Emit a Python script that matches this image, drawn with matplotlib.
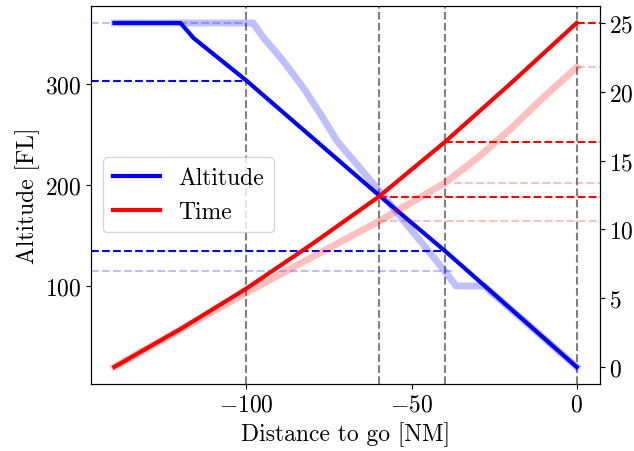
import numpy as np
import matplotlib
matplotlib.use("Agg")
import matplotlib.pyplot as plt

plt.rcParams['font.family'] = 'serif'
plt.rcParams['font.serif'] = ['cmr10']
plt.rcParams['mathtext.fontset'] = 'cm'
plt.rcParams['axes.formatter.use_mathtext'] = True
plt.rcParams['font.size'] = 17

# flown profile
dist = [-140, -120, -116, -100, -60, -40, 0]
alt = [360, 360, 345, 303, 190, 135, 20]
t_dist = [-140, -120, -100, -80, -60, -40, -20, 0]
t_min = [0, 2.75, 5.7, 8.95, 12.36, 16.33, 20.6, 25.0]

# reference profile
ref_dist = [-140, -98, -95, -89, -83, -77.6, -72.5, -60, -40, -36.5, -28, 0]
ref_alt = [360, 360, 346, 323, 297, 270, 243, 195, 115, 100, 100, 20]
ref_t_dist = [-140, -120, -100, -80, -60, -40, -30, -20, -10, 0]
ref_t_min = [0, 2.7, 5.4, 8.0, 10.57, 13.35, 15.2, 17.3, 19.6, 21.77]

waypoints = [-100, -60, -40, 0]

# markers: (x, value)
alt_marks = [(-100, 303), (-40, 135)]
ref_alt_marks = [(-100, 360), (-37, 115)]
time_marks = [(-60, 12.36), (-40, 16.33), (0, 25.0)]
ref_time_marks = [(-60, 10.57), (-37, 13.35), (0, 21.77)]

xlo, xhi = -147, 7

fig, ax = plt.subplots(figsize=(6.34, 4.52), dpi=100)
fig.subplots_adjust(left=0.144, right=0.946, top=0.985, bottom=0.148)
ax2 = ax.twinx()

for w in waypoints:
    ax.axvline(w, color='grey', ls='--', lw=1.5)

for x, a in ref_alt_marks:
    ax.hlines(a, xlo, x, color='blue', alpha=0.25, ls='--', lw=1.5)
for x, a in alt_marks:
    ax.hlines(a, xlo, x, color='blue', ls='--', lw=1.5)
ax.plot(ref_dist, ref_alt, color='blue', alpha=0.25, lw=5)
ln1, = ax.plot(dist, alt, color='blue', lw=3, label='Altitude')

for x, v in ref_time_marks:
    ax2.hlines(v, x, xhi, color='red', alpha=0.25, ls='--', lw=1.5)
for x, v in time_marks:
    ax2.hlines(v, x, xhi, color='red', ls='--', lw=1.5)
ax2.plot(ref_t_dist, ref_t_min, color='red', alpha=0.25, lw=5)
ln2, = ax2.plot(t_dist, t_min, color='red', lw=3, label='Time')

ax.set_xlim(xlo, xhi)
ax.set_xticks([-100, -50, 0])
ax.set_yticks([100, 200, 300])
ax2.set_yticks([0, 5, 10, 15, 20, 25])
ax.set_xlabel('Distance to go [NM]')
ax.set_ylabel('Altitude [FL]')

ax.legend(handles=[ln1, ln2], loc='center left')

fig.savefig('out.png', dpi=100)
